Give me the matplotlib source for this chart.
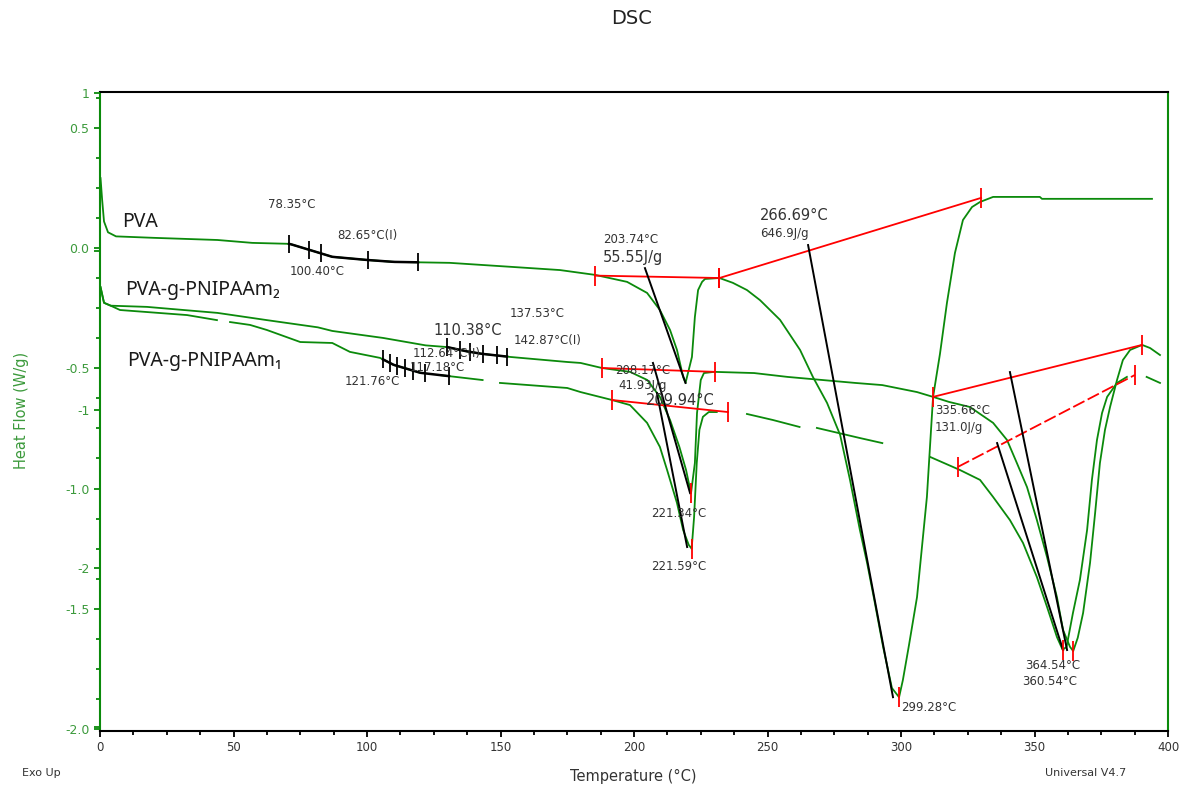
import numpy as np
import matplotlib.pyplot as plt
from matplotlib.ticker import MultipleLocator

# Temperature (°C) and heat flow (W/g) for the three DSC runs
pva_t = [0.2, 0.8, 1.5, 3, 6, 20, 44, 57, 71, 87, 100, 110, 131, 160, 172.3,
         185.4, 197.4, 204.9, 209.7, 213.5, 216.1, 218.4, 219.3, 221.7, 222.8,
         224, 225.5, 226.6, 232, 237, 242.3, 247.2, 254.7, 262.2, 267, 272.3,
         277.2, 280.9, 284.6, 287.3, 290, 293.3, 296.6, 299.28, 300.7, 303, 306,
         309.7, 312, 314.6, 317.2, 320.2, 323.2, 326.6, 329.6, 334.5, 352, 352.8, 394]
pva_hf = [0.29, 0.20, 0.11, 0.065, 0.048, 0.042, 0.033, 0.021, 0.017, -0.037,
          -0.050, -0.058, -0.062, -0.083, -0.092, -0.112, -0.141, -0.187, -0.258,
          -0.341, -0.424, -0.536, -0.561, -0.453, -0.287, -0.175, -0.141, -0.129,
          -0.125, -0.145, -0.175, -0.217, -0.299, -0.424, -0.536, -0.644, -0.777,
          -0.964, -1.172, -1.309, -1.463, -1.658, -1.829, -1.867, -1.796, -1.65,
          -1.451, -1.035, -0.62, -0.44, -0.229, -0.021, 0.116, 0.170, 0.191,
          0.212, 0.212, 0.204, 0.204]

m2_t = [0.2, 1.5, 4, 17.6, 44, 62.5, 81.6, 87, 106, 122, 130, 137.5, 143, 153.6,
        175, 180, 188, 198.5, 205, 209.7, 213.5, 217, 219.5, 221.34, 222.8, 223.6,
        225, 226.2, 230, 245, 257.5, 282.8, 293, 306, 312, 318, 325.8, 334.5,
        339.7, 343.4, 347.2, 350.9, 354.7, 358.4, 360.7, 363.3, 364.5, 366.2,
        368.2, 370.8, 372.7, 374.5, 376.4, 378.3, 380.9, 383.1, 385.8, 390.3,
        393.3, 397]
m2_hf = [-0.163, -0.228, -0.24, -0.245, -0.27, -0.30, -0.33, -0.345, -0.374,
         -0.405, -0.412, -0.43, -0.44, -0.453, -0.474, -0.478, -0.499, -0.515,
         -0.549, -0.619, -0.715, -0.827, -0.923, -1.02, -0.894, -0.686, -0.549,
         -0.520, -0.515, -0.520, -0.536, -0.561, -0.570, -0.599, -0.619, -0.640,
         -0.661, -0.727, -0.798, -0.894, -0.994, -1.131, -1.285, -1.451, -1.588,
         -1.658, -1.675, -1.62, -1.517, -1.309, -1.102, -0.894, -0.756, -0.661,
         -0.549, -0.466, -0.424, -0.403, -0.416, -0.445]

nan = np.nan
m1_t = [0.2, 1.5, 4, 7.5, 32.6, 43.8, nan, 48.7, 56.2, 62.5, 75, 87, 93.6, 104.9,
        110, 120, nan, 127, 143.3, nan, 149.8, 175, 180, 191.8, 198.5, 204.9,
        209.7, 212.4, 216.1, 218.4, 220.5, 221.59, 222.5, 223.5, 224.5, 225.8,
        228, 231, nan, 242.3, 252, 262, nan, 268.5, 284.6, 293, nan, 311, 322.1,
        329.6, 334.5, 340.8, 345.7, 350.9, 354.7, 358.4, 360.54, 362, 364.4, 367,
        369.7, 371.5, 373.4, 375.3, 377.2, 380.9, 384.6, nan, 392, 397]
m1_hf = [-0.163, -0.228, -0.24, -0.258, -0.279, -0.300, nan, -0.308, -0.320,
         -0.341, -0.391, -0.395, -0.432, -0.457, -0.486, -0.519, nan, -0.528,
         -0.549, nan, -0.561, -0.582, -0.599, -0.632, -0.653, -0.727, -0.827,
         -0.923, -1.060, -1.172, -1.234, -1.25, -1.119, -0.894, -0.756, -0.702,
         -0.682, -0.682, nan, -0.690, -0.715, -0.744, nan, -0.748, -0.790, -0.811,
         nan, -0.869, -0.923, -0.964, -1.035, -1.131, -1.226, -1.368, -1.492,
         -1.617, -1.67, -1.658, -1.517, -1.380, -1.172, -0.964, -0.798, -0.686,
         -0.619, -0.561, -0.536, nan, -0.536, -0.561]

# glass transition markers (°C)
pva_tg = [70.8, 78.35, 82.65, 100.4, 119.1]
m2_tg = [130.0, 134.8, 138.6, 143.4, 148.7, 152.4]
m1_tg = [106.0, 108.6, 111.2, 114.2, 117.18, 121.76, 130.7]

# integration baselines ((T0, T1), (hf0, hf1), dashed)
baselines = [((185.4, 232.0), (-0.115, -0.125), False),
             ((232.0, 330.0), (-0.125, 0.208), False),
             ((188.0, 230.3), (-0.499, -0.515), False),
             ((191.8, 235.2), (-0.632, -0.682), False),
             ((312.0, 390.3), (-0.619, -0.403), False),
             ((321.3, 387.6), (-0.910, -0.528), True)]

# onset tangents
tangents = [((204.1, 219.3), (-0.084, -0.561)),
            ((265.2, 297.0), (0.012, -1.867)),
            ((207.1, 221.0), (-0.478, -1.019)),
            ((208.6, 219.9), (-0.603, -1.243)),
            ((340.8, 362.2), (-0.516, -1.671)),
            ((336.0, 360.7), (-0.811, -1.671))]

# peak positions (°C)
peaks_pva = [299.28]
peaks_m2 = [221.34, 364.5]
peaks_m1 = [221.59, 360.54]

GREEN = '#0b8a0b'


def on_curve(t, hf, x):
    t = np.asarray(t, float)
    hf = np.asarray(hf, float)
    ok = ~np.isnan(t)
    return np.interp(x, t[ok], hf[ok])


fig = plt.figure(figsize=(11.92, 7.89), dpi=100)
ax = fig.add_axes([100 / 1192, 58 / 789, 1068 / 1192, 639 / 789])

ax.plot(pva_t, pva_hf, color=GREEN, lw=1.3)
ax.plot(m2_t, m2_hf, color=GREEN, lw=1.3)
ax.plot(m1_t, m1_hf, color=GREEN, lw=1.3)

# glass transition region drawn in black with bar markers
for t, hf, tg in [(pva_t, pva_hf, pva_tg), (m2_t, m2_hf, m2_tg), (m1_t, m1_hf, m1_tg)]:
    xs = np.linspace(tg[0], tg[-1], 40)
    ax.plot(xs, on_curve(t, hf, xs), color='black', lw=1.8)
    ax.plot(tg, on_curve(t, hf, tg), ls='none', marker='|', ms=13, mew=1.3, color='black')

for (x0, x1), (y0, y1), dashed in baselines:
    ax.plot([x0, x1], [y0, y1], color='red', lw=1.3,
            ls=(0, (7, 2)) if dashed else '-')
    ax.plot([x0, x1], [y0, y1], ls='none', marker='|', ms=14, mew=1.3, color='red')

for (x0, x1), (y0, y1) in tangents:
    ax.plot([x0, x1], [y0, y1], color='black', lw=1.4)

for t, hf, pk in [(pva_t, pva_hf, peaks_pva), (m2_t, m2_hf, peaks_m2), (m1_t, m1_hf, peaks_m1)]:
    ax.plot(pk, on_curve(t, hf, pk), ls='none', marker='|', ms=14, mew=1.3, color='red')

# annotation text
small = dict(fontsize=8.5, color='#333333', va='center', ha='left')
big = dict(fontsize=10.5, color='#333333', va='center', ha='left')
ax.text(62.9, 0.179, '78.35°C', **small)
ax.text(88.8, 0.053, '82.65°C(I)', **small)
ax.text(71.2, -0.096, '100.40°C', **small)
ax.text(124.7, -0.345, '110.38°C', **big)
ax.text(153.6, -0.271, '137.53°C', **small)
ax.text(155.0, -0.383, '142.87°C(I)', **small)
ax.text(117.2, -0.437, '112.64°C(I)', **small)
ax.text(116.0, -0.497, '117.18°C', **small)
ax.text(91.8, -0.554, '121.76°C', **small)
ax.text(188.4, 0.033, '203.74°C', **small)
ax.text(188.4, -0.038, '55.55J/g', **big)
ax.text(192.9, -0.508, '208.17°C', **small)
ax.text(194.0, -0.570, '41.93J/g', **small)
ax.text(204.5, -0.632, '209.94°C', **big)
ax.text(206.4, -1.102, '221.34°C', **small)
ax.text(206.4, -1.323, '221.59°C', **small)
ax.text(247.2, 0.136, '266.69°C', **big)
ax.text(247.2, 0.062, '646.9J/g', **small)
ax.text(300.0, -1.908, '299.28°C', **small)
ax.text(312.7, -0.674, '335.66°C', **small)
ax.text(312.7, -0.745, '131.0J/g', **small)
ax.text(346.4, -1.735, '364.54°C', **small)
ax.text(345.3, -1.800, '360.54°C', **small)

# sample names
name = dict(fontsize=14, color='#1a1a1a', va='center', ha='left',
            family=['Noto Sans', 'DejaVu Sans'])
ax.text(8.2, 0.107, 'PVA', **name)
ax.text(9.4, -0.175, 'PVA-g-PNIPAAm₂', **name)
ax.text(10.1, -0.470, 'PVA-g-PNIPAAm₁', **name)

# axes
ax.set_xlim(0, 400)
ax.set_ylim(-2.0075, 0.648)
ax.xaxis.set_major_locator(MultipleLocator(50))
ax.xaxis.set_minor_locator(MultipleLocator(12.5))
ax.set_yticks([0.5, 0.0, -0.5, -1.0, -1.5, -2.0])
ax.set_yticklabels(['0.5', '0.0', '-0.5', '-1.0', '-1.5', '-2.0'])
ax.yaxis.set_minor_locator(MultipleLocator(0.125))
ax.tick_params(axis='x', which='both', direction='out', colors='black',
               labelcolor='#333333', labelsize=8.5, length=4, width=1.3)
ax.tick_params(axis='x', which='minor', length=3)
ax.tick_params(axis='y', which='both', direction='out', colors=GREEN,
               labelcolor='#3c9a3c', labelsize=9, length=4, width=1.3)
ax.tick_params(axis='y', which='minor', length=3)
for side, c in [('left', GREEN), ('right', GREEN), ('top', 'black'), ('bottom', 'black')]:
    ax.spines[side].set_color(c)
    ax.spines[side].set_linewidth(1.5)

# second heat-flow scale sharing the left spine
ax2 = ax.twinx()
ax2.set_ylim(-3.025, 1.004)
ax2.set_yticks([1, 0, -1, -2, -3])
ax2.set_yticklabels(['1', '', '-1', '-2', ''])
ax2.yaxis.tick_left()
ax2.tick_params(axis='y', direction='out', colors=GREEN, labelcolor='#3c9a3c',
                labelsize=9, length=4, width=1.3)
for s in ax2.spines.values():
    s.set_visible(False)

fig.text(632 / 1192, 1 - 18 / 789, 'DSC', fontsize=14, color='#222222', ha='center', va='center')
fig.text(633 / 1192, 1 - 776 / 789, 'Temperature (°C)', fontsize=10.5, color='#333333',
         ha='center', va='center')
fig.text(22 / 1192, 1 - 410 / 789, 'Heat Flow (W/g)', fontsize=10.5, color='#3c9a3c',
         rotation=90, ha='center', va='center')
fig.text(22 / 1192, 1 - 773 / 789, 'Exo Up', fontsize=8, color='#333333', ha='left', va='center')
fig.text(1045 / 1192, 1 - 773 / 789, 'Universal V4.7', fontsize=8, color='#333333',
         ha='left', va='center')

fig.savefig('out.png', dpi=100)
